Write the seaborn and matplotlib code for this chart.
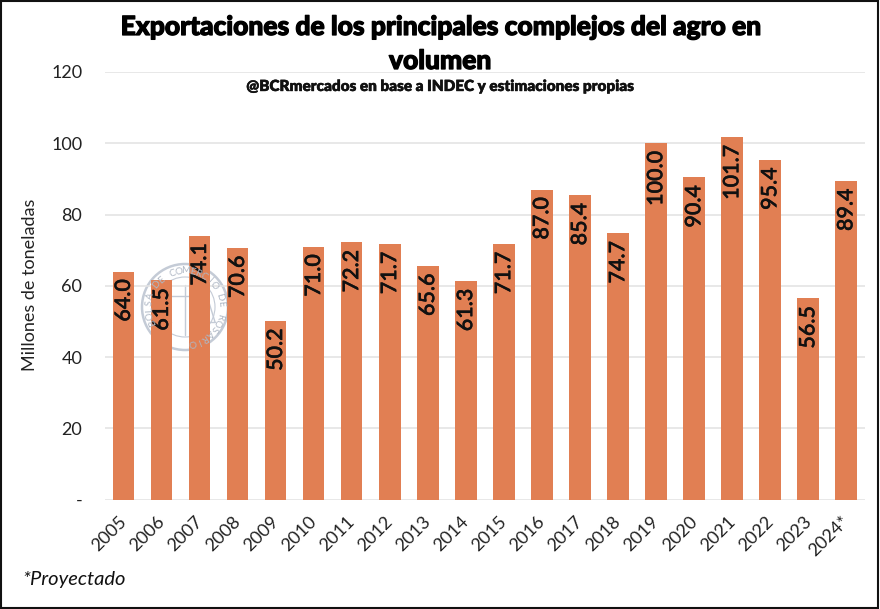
import numpy as np
import matplotlib
matplotlib.use("Agg")
import matplotlib.pyplot as plt
import matplotlib.patheffects as pe
from matplotlib.lines import Line2D
from matplotlib.patches import Circle, Rectangle
from matplotlib.transforms import ScaledTranslation
import seaborn as sns
import pandas as pd

years = ["2005", "2006", "2007", "2008", "2009", "2010", "2011", "2012", "2013", "2014",
         "2015", "2016", "2017", "2018", "2019", "2020", "2021", "2022", "2023", "2024*"]
values = [64.0, 61.5, 74.1, 70.6, 50.2, 71.0, 72.2, 71.7, 65.6, 61.3,
          71.7, 87.0, 85.4, 74.7, 100.0, 90.4, 101.7, 95.4, 56.5, 89.4]
y_ticks = [0, 20, 40, 60, 80, 100, 120]
y_tick_labels = ["-", "20", "40", "60", "80", "100", "120"]

W, H = 880, 609
BAR_COLOR = "#E17F53"

sns.set_theme(style="white")
plt.rcParams["font.family"] = ["Lato", "DejaVu Sans"]

df = pd.DataFrame({"year": years, "value": values})

fig = plt.figure(figsize=(W / 100, H / 100), dpi=100)
ax = fig.add_axes([104.5 / W, 1 - 499.5 / H, 760.5 / W, 427.5 / H])


def fx(px):
    return px / W


def fy(py):
    return 1 - py / H


# Bars and their rotated labels
sns.barplot(data=df, x="year", y="value", color=BAR_COLOR, saturation=1, width=0.57, linewidth=0, ax=ax, zorder=3)
for bar, val in zip(ax.patches, values):
    ax.annotate(f"{val:.1f}", (bar.get_x() + bar.get_width() / 2, bar.get_height()),
                xytext=(0, -5.5), textcoords="offset points", rotation=90,
                ha="center", va="top", fontsize=15.5, fontweight=600, color="#111111", zorder=4,
                path_effects=[pe.withStroke(linewidth=0.2, foreground="#111111")])

ax.set_xlim(-0.5, 19.5)
ax.set_ylim(0, 120)
ax.set_yticks(y_ticks)
ax.set_yticklabels(y_tick_labels, fontsize=13, color="#222222")
ax.tick_params(axis="y", length=0, pad=16)
ax.tick_params(axis="x", length=0, pad=10)
ax.set_xticks(range(len(years)))
ax.set_xticklabels(years, rotation=45, ha="right", rotation_mode="anchor", fontsize=13, color="#222222")
shift = ScaledTranslation(-5 / 100, 0, fig.dpi_scale_trans)
for lab in ax.get_xticklabels():
    lab.set_transform(lab.get_transform() + shift)
ax.set_xlabel("")
ax.set_ylabel("")
ax.grid(axis="y", color="#E4E4E4", linewidth=1.2, zorder=0)
ax.set_axisbelow(True)
sns.despine(ax=ax, left=True, bottom=True, top=True, right=True)
ax.patch.set_alpha(0)

# Watermark seal behind the bars
cx, cy, r = 185, 307, 43
seal = "#C4CBD6"
for rad, lw in [(r, 1.8), (r - 13, 0.8)]:
    fig.add_artist(Circle((cx, H - cy), rad, transform=None, fill=False,
                          edgecolor=seal, linewidth=lw, zorder=0))
seal_text = "BOLSA DE COMERCIO DE ROSARIO"
for i, ch in enumerate(seal_text):
    ang = np.deg2rad(205 - i * 10.5)
    fig.text(fx(cx + (r - 7) * np.cos(ang)), fy(cy - (r - 7) * np.sin(ang)), ch, fontsize=7, color="#AEB7C4",
             rotation=np.rad2deg(ang) - 90, ha="center", va="center", zorder=0)
# Scales in the middle of the seal
for (x0, y0, x1, y1) in [(185, 285, 185, 335), (163, 296, 207, 296), (163, 296, 155, 322),
                         (163, 296, 171, 322), (207, 296, 199, 322), (207, 296, 215, 322),
                         (155, 322, 171, 322), (199, 322, 215, 322)]:
    fig.add_artist(Line2D([fx(x0), fx(x1)], [fy(y0), fy(y1)], transform=fig.transFigure,
                          color=seal, linewidth=1.0, zorder=0))

# Titles
title_stroke = [pe.withStroke(linewidth=0.9, foreground="black")]
fig.text(fx(440), fy(27), "Exportaciones de los principales complejos del agro en",
         fontsize=19, fontweight=900, ha="center", va="center", color="black", path_effects=title_stroke)
fig.text(fx(440), fy(61), "volumen",
         fontsize=19, fontweight=900, ha="center", va="center", color="black", path_effects=title_stroke)
fig.text(fx(440), fy(86.5), "@BCRmercados en base a INDEC y estimaciones propias",
         fontsize=11, fontweight=800, ha="center", va="center", color="#111111",
         path_effects=[pe.withStroke(linewidth=0.3, foreground="#111111")])

fig.text(fx(30), fy(285), "Millones de toneladas", rotation=90, fontsize=13, ha="center", va="center", color="#222222")
fig.text(fx(22), fy(579), "*Proyectado", fontsize=14.5, style="italic", ha="left", va="center", color="#111111")

# Outer frame
fig.add_artist(Rectangle((fx(1), fy(608)), 877 / W, 607 / H, transform=fig.transFigure, fill=False,
                         edgecolor="#111111", linewidth=1.5))

fig.savefig("out.png", dpi=100)
